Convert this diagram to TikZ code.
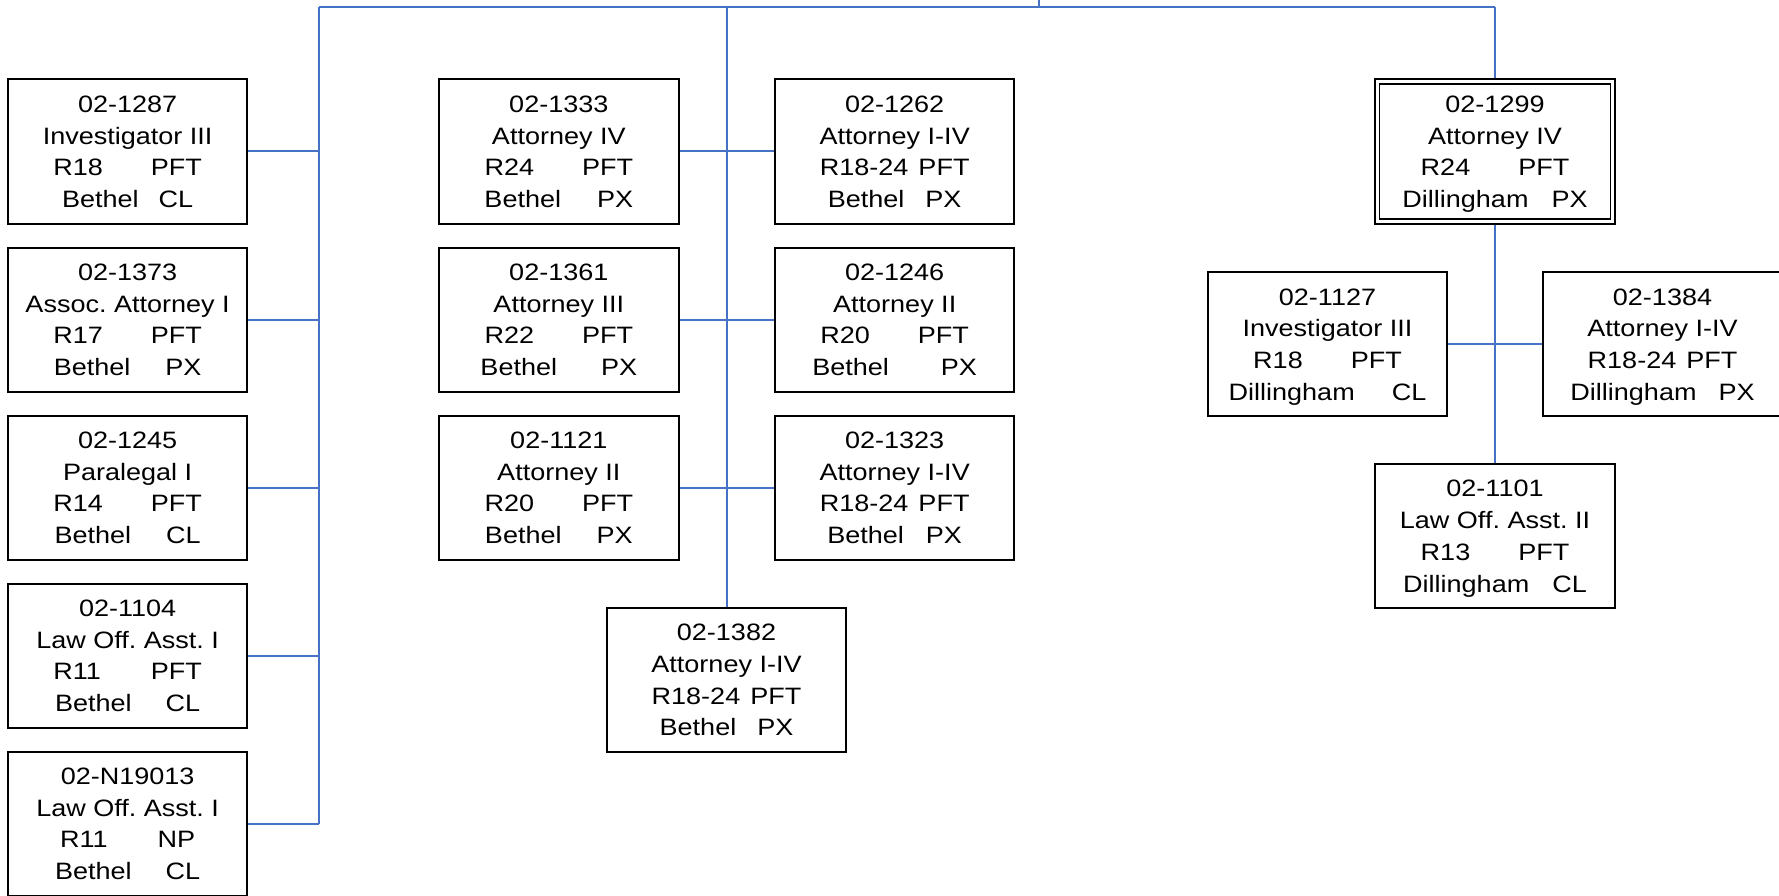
\documentclass[tikz,border=0pt]{standalone}
\usepackage{fontspec}
\newfontfamily\boxfont[FakeStretch=1.14]{Liberation Sans}
\newcommand\gp[1]{\hspace*{#1pt}}
\definecolor{linkblue}{HTML}{4472C4}
\frenchspacing
\begin{document}
\begin{tikzpicture}[x=1pt,y=-1pt,
  posbox/.style={draw=black, line width=2pt, minimum width=239.4pt, minimum height=144pt,
    inner sep=0pt, align=center, font=\boxfont\frenchspacing\fontsize{23.7pt}{31.7pt}\selectfont,
    text height=112.1pt, text depth=0pt},
  link/.style={draw=linkblue, line width=2pt}]
\useasboundingbox (0,0) rectangle (1779,896);
\clip (0,0) rectangle (1779,896);
% left column
\node[posbox] (l1) at (127.6,151.5) {02-1287\\Investigator III\\R18\gp{48}PFT\\Bethel\gp{20}CL};
\node[posbox] (l2) at (127.6,319.5) {02-1373\\Assoc. Attorney I\\R17\gp{48}PFT\\Bethel\gp{35}PX};
\node[posbox] (l3) at (127.6,487.5) {02-1245\\Paralegal I\\R14\gp{48}PFT\\Bethel\gp{35}CL};
\node[posbox] (l4) at (127.6,655.5) {02-1104\\Law Off. Asst. I\\R11\gp{50}PFT\\Bethel\gp{34}CL};
\node[posbox] (l5) at (127.6,823.5) {02-N19013\\Law Off. Asst. I\\R11\gp{50}NP\\Bethel\gp{34}CL};
% middle
\node[posbox] (m1) at (558.8,151.5) {02-1333\\Attorney IV\\R24\gp{48}PFT\\Bethel\gp{36}PX};
\node[posbox] (m2) at (894.7,151.5) {02-1262\\Attorney I-IV\\R18-24\gp{10}PFT\\Bethel\gp{21}PX};
\node[posbox] (m3) at (558.8,319.5) {02-1361\\Attorney III\\R22\gp{48}PFT\\Bethel\gp{44}PX};
\node[posbox] (m4) at (894.7,319.5) {02-1246\\Attorney II\\R20\gp{48}PFT\\Bethel\gp{52}PX};
\node[posbox] (m5) at (558.8,487.5) {02-1121\\Attorney II\\R20\gp{48}PFT\\Bethel\gp{35}PX};
\node[posbox] (m6) at (894.7,487.5) {02-1323\\Attorney I-IV\\R18-24\gp{10}PFT\\Bethel\gp{22}PX};
\node[posbox] (m7) at (726.5,679.7) {02-1382\\Attorney I-IV\\R18-24\gp{10}PFT\\Bethel\gp{21}PX};
% right
\node[posbox] (r1) at (1495,151.5) {02-1299\\Attorney IV\\R24\gp{48}PFT\\Dillingham\gp{23}PX};
\draw[line width=1.3pt] ([shift={(5,5.5)}]r1.north west) rectangle ([shift={(-5,-5.5)}]r1.south east);
\node[posbox] (r2) at (1327.5,344.3) {02-1127\\Investigator III\\R18\gp{48}PFT\\Dillingham\gp{37}CL};
\node[posbox] (r3) at (1662.5,344.3) {02-1384\\Attorney I-IV\\R18-24\gp{10}PFT\\Dillingham\gp{22}PX};
\node[posbox] (r4) at (1495,536) {02-1101\\Law Off. Asst. II\\R13\gp{48}PFT\\Dillingham\gp{23}CL};
% connectors
\coordinate (root) at (1039,0);
\coordinate (busroot) at (1039,7.5);
\coordinate (busL) at (318.8,7.5);
\coordinate (busM) at (726.5,7.5);
\coordinate (busR) at (1495,7.5);
\draw[link] (root) -- (busroot);
\draw[link] (busL) -- (busR);
\draw[link] (busL) -- (busL |- l5.east);
\foreach \n in {l1,l2,l3,l4,l5} \draw[link] (\n.east) -- (\n.east -| busL);
\draw[link] (busM) -- (m7.north);
\draw[link] (m1.east) -- (m2.west);
\draw[link] (m3.east) -- (m4.west);
\draw[link] (m5.east) -- (m6.west);
\draw[link] (busR) -- (r1.north);
\draw[link] (r1.south) -- (r4.north);
\draw[link] (r2.east) -- (r3.west);
\end{tikzpicture}
\end{document}
